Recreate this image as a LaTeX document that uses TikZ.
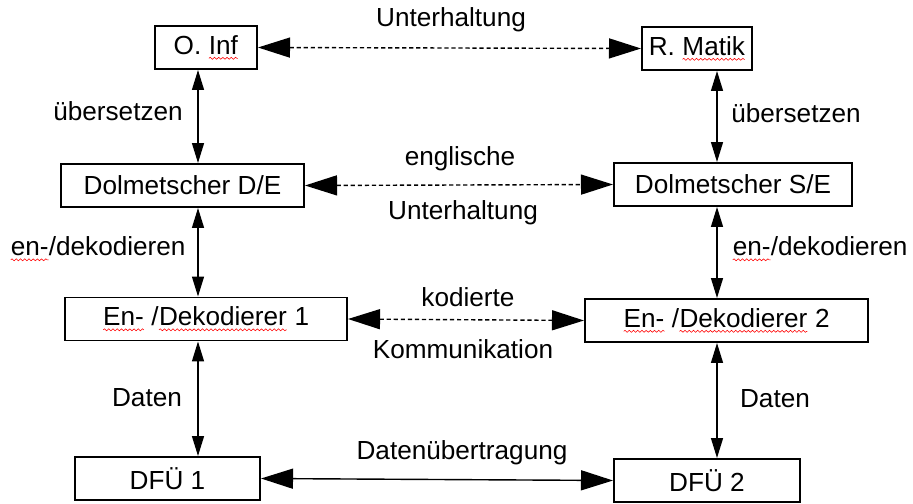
\documentclass[tikz,border=0pt]{standalone}
\usepackage{fontspec}
\setmainfont{Liberation Sans}
\usetikzlibrary{arrows.meta,decorations.pathmorphing}
\newcommand{\spellmark}[1]{\tikz[baseline=(w.base)]{\node[draw=none,inner sep=0pt,outer sep=0pt,minimum width=0pt,minimum height=0pt] (w) {#1};
  \draw[red,line width=0.4pt,solid,decorate,decoration={snake,amplitude=0.7pt,segment length=3pt}]
    ([yshift=-2.8pt]w.base west) -- ([yshift=-2.8pt]w.base east);}}
\tikzset{
  unit/.style={draw,line width=1.4pt,inner sep=0pt,minimum height=1.075cm,font=\fontsize{18.6}{22}\selectfont},
  lbl/.style={inner sep=0pt,font=\fontsize{18.6}{22}\selectfont},
  talk/.style={{Triangle[length=8mm,width=5mm]}-{Triangle[length=8mm,width=5mm]},line width=1pt,dash pattern=on 3pt off 2pt},
  wire/.style={{Triangle[length=8mm,width=5mm]}-{Triangle[length=8mm,width=5mm]},line width=1pt},
  link/.style={{Triangle[length=5mm,width=3mm]}-{Triangle[length=5mm,width=3mm]},line width=1pt},
}
\begin{document}
\begin{tikzpicture}[x=0.025cm,y=-0.025cm]
  \useasboundingbox (0,0) rectangle (913,504);
  \coordinate (colL) at (198,0);
  \coordinate (colR) at (717,0);
  % boxes
  \node[unit,minimum width=2.55cm] (oinf) at (206,47.5) {O. \spellmark{Inf}};
  \node[unit,minimum width=2.75cm] (rmatik) at (697,48.5) {R. \spellmark{Matik}};
  \node[unit,minimum width=6.075cm] (dolde) at (182.5,185.5) {Dolmetscher D/E};
  \node[unit,minimum width=5.95cm] (dolse) at (733,184.5) {Dolmetscher S/E};
  \node[unit,minimum width=7.05cm] (encL) at (206,319) {\spellmark{En-} /\spellmark{Dekodierer} 1};
  \node[unit,minimum width=7.075cm] (encR) at (726.5,320.5) {\spellmark{En-} /\spellmark{Dekodierer} 2};
  \node[unit,minimum width=4.625cm] (dfuL) at (167.5,478.5) {DFÜ 1};
  \node[unit,minimum width=4.65cm] (dfuR) at (707,480.5) {DFÜ 2};
  % labels
  \node[lbl] (l1) at (451,20) {Unterhaltung};
  \node[lbl] (l2) at (118,111) {übersetzen};
  \node[lbl] (l3) at (796,113) {übersetzen};
  \node[lbl] (l4) at (460,159) {englische};
  \node[lbl] (l5) at (463,213) {Unterhaltung};
  \node[lbl] (l6) at (98,249) {\spellmark{en-}/dekodieren};
  \node[lbl] (l7) at (820,249) {\spellmark{en-}/dekodieren};
  \node[lbl] (l8) at (468,297) {kodierte};
  \node[lbl] (l9) at (463,349) {Kommunikation};
  \node[lbl] (l10) at (147,398) {Daten};
  \node[lbl] (l11) at (775,399) {Daten};
  \node[lbl] (l12) at (462,453) {Datenübertragung};
  % connectors
  \draw[talk] (oinf.east) -- (rmatik.west);
  \draw[talk] (dolde.east) -- (dolse.west);
  \draw[talk] (encL.east) -- (encR.west);
  \draw[wire] (dfuL.east) -- (dfuR.west);
  \draw[link] (oinf.south -| colL) -- (dolde.north -| colL);
  \draw[link] (dolde.south -| colL) -- (encL.north -| colL);
  \draw[link] (encL.south -| colL) -- (dfuL.north -| colL);
  \draw[link] (rmatik.south -| colR) -- (dolse.north -| colR);
  \draw[link] (dolse.south -| colR) -- (encR.north -| colR);
  \draw[link] (encR.south -| colR) -- (dfuR.north -| colR);
\end{tikzpicture}
\end{document}
